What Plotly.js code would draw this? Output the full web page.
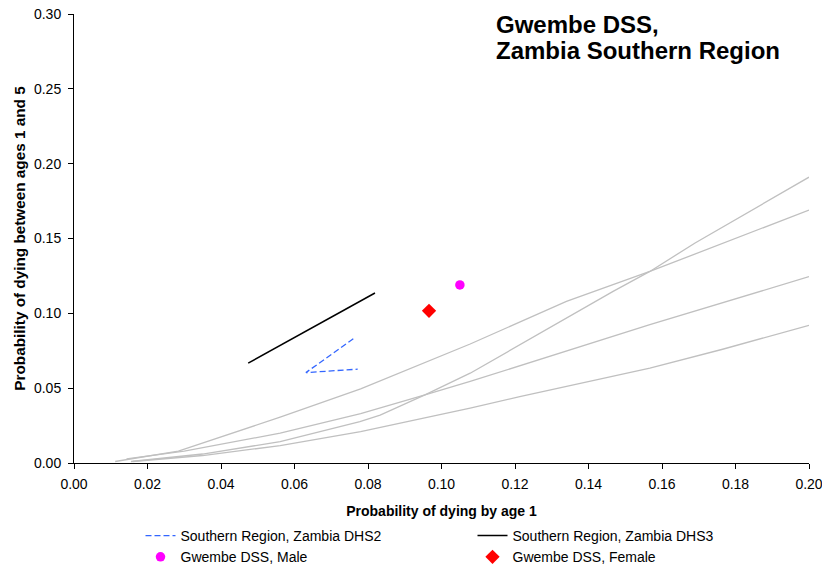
<!DOCTYPE html>
<html>
<head>
<meta charset="utf-8">
<script src="https://cdn.plot.ly/plotly-3.0.1.min.js"></script>
<style>html,body{margin:0;padding:0;background:#fff;}#chart{width:822px;height:567px;}</style>
</head>
<body>
<div id="chart"></div>
<script>
// Model (reference) curves
var modelAx = [0.0112, 0.0284, 0.0561, 0.078, 0.1078, 0.134, 0.1567, 0.20];
var modelAy = [0.001, 0.008, 0.0306, 0.0495, 0.0795, 0.108, 0.128, 0.169];
var modelBx = [0.0155, 0.035, 0.0561, 0.0778, 0.0833, 0.0955, 0.1078, 0.1467, 0.1567, 0.169, 0.20];
var modelBy = [0.001, 0.006, 0.0143, 0.0276, 0.032, 0.0455, 0.060, 0.1147, 0.128, 0.147, 0.191];
var modelCx = [0.0143, 0.030, 0.0561, 0.078, 0.0955, 0.1078, 0.1567, 0.20];
var modelCy = [0.0027, 0.008, 0.0199, 0.033, 0.0455, 0.0545, 0.0924, 0.1245];
var modelDx = [0.016, 0.035, 0.0561, 0.078, 0.1078, 0.1213, 0.1567, 0.1765, 0.20];
var modelDy = [0.001, 0.005, 0.0116, 0.021, 0.0366, 0.0444, 0.0634, 0.076, 0.092];

// Survey series
var dhs2x = [0.0760, 0.0631, 0.0772];
var dhs2y = [0.0830, 0.0604, 0.0627];
var dhs3x = [0.0474, 0.0819];
var dhs3y = [0.0667, 0.1136];
var maleX = [0.105];
var maleY = [0.119];
var femaleX = [0.0966];
var femaleY = [0.1017];

var seriesNames = ['Southern Region, Zambia DHS2', 'Southern Region, Zambia DHS3', 'Gwembe DSS, Male', 'Gwembe DSS, Female'];
var titleLines = ['Gwembe DSS,', 'Zambia Southern Region'];
var xTitle = 'Probability of dying by age 1';
var yTitle = 'Probability of dying between ages 1 and 5';

var FONT = 'Arial, "Liberation Sans", sans-serif';
var gray = '#C0C0C0';

function model(x, y) {
  return {x: x, y: y, mode: 'lines', type: 'scatter', showlegend: false, hoverinfo: 'skip',
          line: {color: gray, width: 1.3}};
}

var traces = [
  model(modelAx, modelAy), model(modelBx, modelBy), model(modelCx, modelCy), model(modelDx, modelDy),
  {x: dhs2x, y: dhs2y, name: seriesNames[0], mode: 'lines', type: 'scatter',
   line: {color: '#3366FF', width: 1.3, dash: '6px,3px'}},
  {x: dhs3x, y: dhs3y, name: seriesNames[1], mode: 'lines', type: 'scatter',
   line: {color: '#000000', width: 1.5}},
  {x: maleX, y: maleY, name: seriesNames[2], mode: 'markers', type: 'scatter',
   marker: {color: '#FF00FF', size: 9.5, symbol: 'circle'}},
  {x: femaleX, y: femaleY, name: seriesNames[3], mode: 'markers', type: 'scatter',
   marker: {color: '#FF0000', size: 11, symbol: 'diamond'}}
];

var L = 74, R = 13, T = 14, B = 104, W = 822, H = 567;
var pw = W - L - R, ph = H - T - B;
function px2paperX(p) { return (p - L) / pw; }
function px2paperY(p) { return (H - B - p) / ph; }

var layout = {
  width: W, height: H,
  margin: {l: L, r: R, t: T, b: B, pad: 0, autoexpand: false},
  paper_bgcolor: '#ffffff', plot_bgcolor: '#ffffff',
  font: {family: FONT, size: 14, color: '#000000'},
  showlegend: true,
  xaxis: {
    range: [0, 0.20], tickvals: [0, 0.02, 0.04, 0.06, 0.08, 0.10, 0.12, 0.14, 0.16, 0.18, 0.20],
    tickformat: '.2f', showgrid: false, zeroline: false, showline: true, linecolor: '#000', linewidth: 1,
    ticks: 'outside', ticklen: 5, tickcolor: '#000', tickfont: {size: 14}, ticklabeloverflow: 'allow',
    ticklabelstandoff: 3,
    title: {text: '<b>' + xTitle + '</b>', font: {size: 14}, standoff: 15}
  },
  yaxis: {
    range: [0, 0.30], tickvals: [0, 0.05, 0.10, 0.15, 0.20, 0.25, 0.30],
    tickformat: '.2f', showgrid: false, zeroline: false, showline: true, linecolor: '#000', linewidth: 1,
    ticks: 'outside', ticklen: 5, tickcolor: '#000', tickfont: {size: 14}, ticklabeloverflow: 'allow',
    ticklabelstandoff: 4,
    title: {text: '<b>' + yTitle + '</b>', font: {size: 15.3}, standoff: 4}
  },
  legend: {
    orientation: 'h', x: px2paperX(140.5), xanchor: 'left', y: px2paperY(520), yanchor: 'top',
    entrywidth: 287, entrywidthmode: 'pixels', font: {size: 14}, bgcolor: 'rgba(0,0,0,0)',
    itemclick: false
  },
  annotations: [
    {text: '<b>' + titleLines[0] + '</b>', xref: 'paper', yref: 'paper', x: px2paperX(494), y: px2paperY(24),
     xanchor: 'left', yanchor: 'middle', showarrow: false, font: {size: 24}},
    {text: '<b>' + titleLines[1] + '</b>', xref: 'paper', yref: 'paper', x: px2paperX(494), y: px2paperY(50),
     xanchor: 'left', yanchor: 'middle', showarrow: false, font: {size: 24}}
  ]
};

Plotly.newPlot('chart', traces, layout, {displayModeBar: false, staticPlot: true});
</script>
</body>
</html>
